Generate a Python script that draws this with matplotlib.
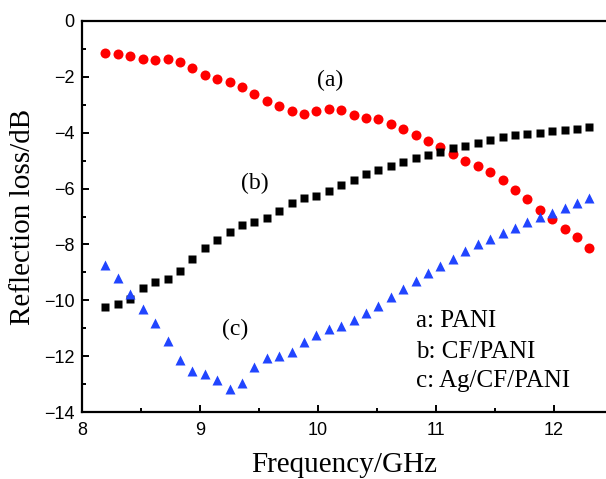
import matplotlib

matplotlib.use("Agg")
import matplotlib.pyplot as plt
from matplotlib.ticker import MultipleLocator

# frequency samples (GHz)
freq = [8.200, 8.305, 8.410, 8.515, 8.621, 8.726, 8.831, 8.936, 9.041, 9.146,
        9.251, 9.356, 9.462, 9.567, 9.672, 9.777, 9.882, 9.987, 10.092, 10.197,
        10.303, 10.408, 10.513, 10.618, 10.723, 10.828, 10.933, 11.038, 11.144, 11.249,
        11.354, 11.459, 11.564, 11.669, 11.774, 11.879, 11.985, 12.090, 12.195, 12.300]

# a: PANI
rl_pani = [-1.17, -1.19, -1.27, -1.38, -1.41, -1.38, -1.48, -1.68, -1.95, -2.09,
           -2.19, -2.36, -2.64, -2.87, -3.06, -3.22, -3.32, -3.24, -3.15, -3.20,
           -3.36, -3.48, -3.53, -3.69, -3.86, -4.10, -4.30, -4.52, -4.78, -5.02,
           -5.20, -5.42, -5.71, -6.04, -6.39, -6.75, -7.10, -7.43, -7.73, -8.12]

# b: CF/PANI
rl_cf = [-10.25, -10.14, -9.93, -9.54, -9.35, -9.25, -8.96, -8.53, -8.13, -7.84,
         -7.54, -7.31, -7.18, -7.05, -6.82, -6.53, -6.35, -6.25, -6.09, -5.89,
         -5.68, -5.47, -5.33, -5.20, -5.05, -4.91, -4.81, -4.69, -4.57, -4.48,
         -4.36, -4.25, -4.16, -4.10, -4.04, -4.00, -3.95, -3.92, -3.86, -3.81]

# c: Ag/CF/PANI
rl_ag = [-8.72, -9.18, -9.77, -10.32, -10.81, -11.44, -12.14, -12.51, -12.64, -12.85,
         -13.18, -12.96, -12.38, -12.04, -11.98, -11.83, -11.50, -11.24, -11.03, -10.91,
         -10.70, -10.45, -10.19, -9.89, -9.59, -9.32, -9.03, -8.78, -8.52, -8.25,
         -8.00, -7.80, -7.59, -7.41, -7.20, -7.00, -6.86, -6.68, -6.50, -6.33]

# curve tags (text, x, y) and the sample key lines
tags = [("(a)", 9.99, -2.13), ("(b)", 9.35, -5.83), ("(c)", 9.19, -11.03)]
key_lines = ["a: PANI", "b: CF/PANI", "c: Ag/CF/PANI"]
key_baselines = [-10.94, -12.04, -13.08]

SERIF = ["Liberation Serif", "DejaVu Serif"]
SANS = ["Liberation Sans", "DejaVu Sans"]

fig = plt.figure(figsize=(6.06, 4.79), dpi=100)
# plot frame runs off the right edge of the picture (no right spine shown)
ax = fig.add_axes([0.135, 0.139, 0.865, 0.818])

ax.plot(freq, rl_pani, "o", color="#ff0000", ms=7.2, mec="none")
ax.plot(freq, rl_cf, "s", color="#000000", ms=5.8, mec="none")
ax.plot(freq, rl_ag, "^", color="#2145ff", ms=7.8, mec="none")

ax.set_xlim(8, 12.44)
ax.set_ylim(-14, 0)
ax.xaxis.set_major_locator(MultipleLocator(1))
ax.xaxis.set_minor_locator(MultipleLocator(0.5))
ax.yaxis.set_major_locator(MultipleLocator(2))
ax.yaxis.set_minor_locator(MultipleLocator(1))

for s in ax.spines.values():
    s.set_linewidth(1.6)
ax.spines["right"].set_visible(False)
ax.tick_params(which="both", direction="in", width=1.4, top=False, right=False)
ax.tick_params(which="major", length=5, labelsize=13)
ax.tick_params(which="minor", length=3)
ax.tick_params(axis="x", which="major", pad=7)
ax.tick_params(axis="y", which="major", pad=5)
for lab in ax.get_xticklabels() + ax.get_yticklabels():
    lab.set_family(SANS)

ax.set_xlabel("Frequency/GHz", family=SERIF, fontsize=21, labelpad=9)
ax.set_ylabel("Reflection loss/dB", family=SERIF, fontsize=21, labelpad=6)

for txt, x, y in tags:
    ax.text(x, y, txt, family=SERIF, fontsize=17, va="center")
for txt, y in zip(key_lines, key_baselines):
    ax.text(10.83, y, txt, family=SERIF, fontsize=18, va="baseline")

fig.savefig("out.png", dpi=100)
